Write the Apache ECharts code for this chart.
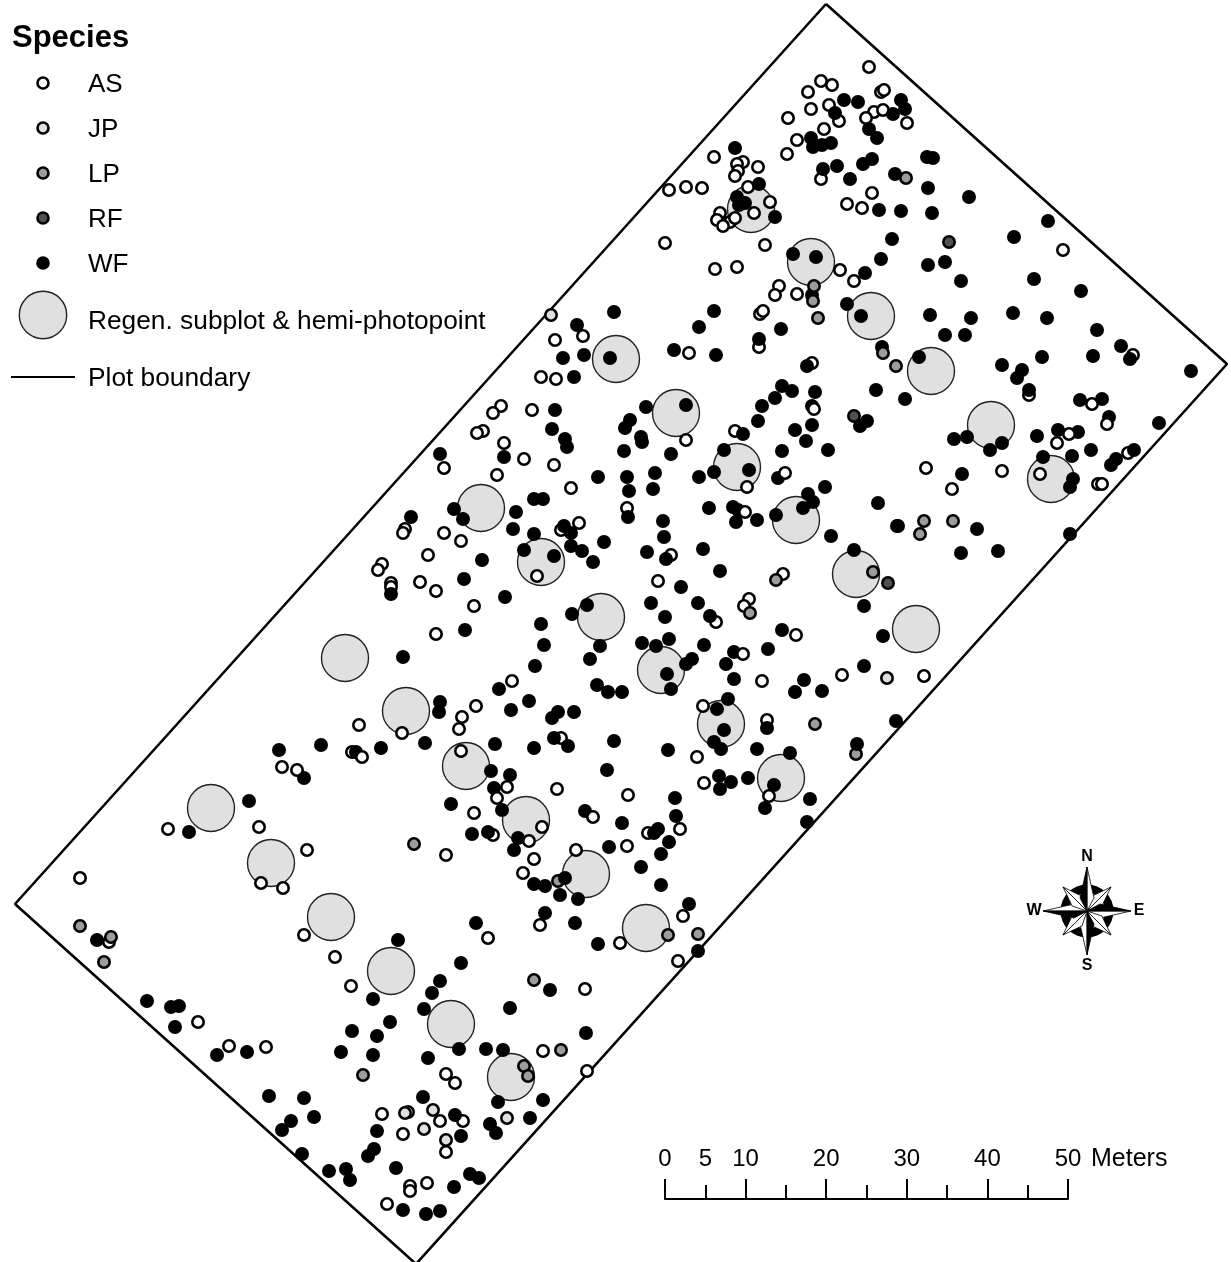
<!DOCTYPE html>
<html><head><meta charset="utf-8">
<style>html,body{margin:0;padding:0;background:#fff}#c{width:1231px;height:1262px}</style>
<script src="https://cdn.jsdelivr.net/npm/echarts@6/dist/echarts.min.js"></script>
</head><body><div id="c"></div>
<script>
const boundary=[[826,4],[1227,364],[416,1264],[15,904],[826,4]];
const subplots=[[751,209],[811,262],[871,316],[931,371],[991,425],[1051,479],[616,359],[676,413],[737,467],[796,520],[856,574],[916,629],[481,508],[541,562],[601,617],[661,670],[721,724],[781,778],[345,658],[406,711],[466,766],[526,820],[586,874],[646,928],[211,808],[271,863],[331,917],[391,971],[451,1024],[511,1077]];
const AS=[[869,67],[821,81],[832,85],[808,92],[881,92],[884,90],[811,109],[829,105],[839,121],[874,112],[883,110],[866,118],[907,123],[788,118],[824,129],[797,140],[787,154],[714,157],[743,162],[737,164],[758,167],[738,171],[735,176],[748,187],[669,190],[686,187],[702,188],[821,179],[872,193],[847,204],[862,208],[720,213],[717,220],[730,222],[723,226],[665,243],[765,245],[715,269],[737,267],[840,270],[854,281],[779,286],[775,295],[797,294],[760,314],
[1063,250],[1133,355],[1029,395],[1057,443],[1128,453],[926,468],[1002,471],[1040,474],[952,489],[1098,484],[1102,484],
[555,340],[689,353],[759,347],[812,363],[541,377],[556,379],[532,410],[686,440],[735,431],[554,465],[571,488],[627,508],[671,555],[579,523],[561,530],[537,576],[783,574],[658,581],
[501,406],[493,413],[483,431],[477,433],[504,443],[524,459],[444,468],[497,475],[405,529],[403,533],[444,533],[461,541],[428,555],[382,564],[378,570],[391,583],[391,587],[420,582],[436,591],[474,606],[436,634],[512,681],
[749,599],[744,606],[716,622],[796,635],[762,681],[842,675],[924,676],[703,706],[767,720],[697,757],[704,783],
[476,706],[462,717],[459,729],[402,733],[461,751],[561,738],[557,789],[628,795],[474,813],[493,835],[648,833],[680,829],[627,846],[446,855],[576,850],[534,859],[523,873],[540,925],[683,916],[488,938],[620,943],[678,961],
[359,725],[282,767],[352,752],[168,829],[259,827],[307,850],[261,883],[283,888],[80,878],[304,935],[335,957],[351,986],[109,942],[198,1022],[229,1046],[266,1047],
[585,989],[543,1051],[446,1074],[455,1083],[587,1071],[382,1114],[408,1112],[440,1121],[463,1121],[403,1134],[446,1152],[410,1186],[410,1191],[427,1183],[387,1204]];
const ASOnTop=[[754,213],[770,202],[735,218],[763,311],[745,512],[785,473],[747,487],[507,787],[497,798],[529,841],[542,827],[593,817],[769,796],[743,654],[814,409],[1107,424],[1069,434],[1092,404],[583,336],[362,757],[297,770]];
const JP=[[551,315],[887,678],[405,1113],[433,1110],[424,1129],[446,1140],[507,1118]];
const LP=[[906,178],[814,286],[813,301],[818,318],[924,521],[953,521],[920,534],[883,353],[896,366],[873,572],[776,580],[750,613],[815,724],[414,844],[668,935],[698,934],[80,926],[111,937],[104,962],[534,980],[561,1050],[363,1075],[524,1066],[528,1076]];
const LPBelow=[[558,881],[856,754]];
const RF=[[949,242],[854,416],[888,583]];
const WF=[[844,100],[858,102],[901,100],[905,109],[893,114],[835,113],[869,129],[877,138],[811,138],[813,147],[822,145],[831,143],[735,148],[872,159],[863,164],[927,157],[933,158],[837,166],[823,169],[850,179],[895,174],[928,188],[759,184],[737,197],[739,205],[745,203],[879,210],[901,211],[932,213],[775,217],[892,239],[881,259],[793,254],[816,257],[928,265],[865,273],[714,311],[699,327],[847,304],[861,316],[930,315],[781,329],[759,339],[812,295],
[969,197],[1048,221],[1014,237],[945,262],[961,281],[1034,279],[1081,291],[971,318],[1013,313],[1047,318],[945,335],[965,335],[1097,330],[1121,346],[1130,359],[1093,356],[1042,357],[1191,371],[1002,365],[1022,370],[1017,378],[1029,390],[919,357],[905,399],[1080,400],[1102,399],[1109,417],[1159,423],[1058,430],[1078,432],[1037,436],[954,439],[967,437],[1002,443],[990,450],[1091,450],[1072,456],[1043,457],[1134,450],[1116,459],[1111,465],[962,474],[1073,479],[1070,487],[977,529],[1070,534],[898,526],[961,553],[998,551],
[614,312],[577,325],[882,347],[584,355],[563,358],[610,358],[574,377],[674,350],[716,355],[807,366],[782,386],[792,391],[815,392],[775,398],[762,406],[758,421],[876,390],[860,426],[867,421],[646,407],[686,405],[630,420],[625,428],[641,437],[642,442],[555,410],[552,429],[565,439],[567,447],[624,451],[671,454],[812,425],[795,430],[806,441],[743,434],[724,450],[782,451],[828,450],[749,470],[714,472],[699,477],[778,478],[598,477],[627,477],[655,473],[629,491],[653,489],[825,487],[808,494],[813,502],[803,508],[776,515],[757,520],[733,507],[738,510],[736,522],[709,508],[628,517],[663,521],[664,537],[878,503],[897,526],[831,536],[854,550],[703,549],[647,552],[666,559],[720,571],[681,587],[534,499],[543,499],[534,534],[564,526],[571,533],[571,546],[582,551],[604,542],[593,562],[554,556],[812,406],
[440,454],[504,457],[411,517],[454,509],[463,519],[516,512],[513,529],[524,550],[482,560],[464,579],[391,594],[505,597],[651,603],[587,605],[572,614],[465,630],[541,624],[544,645],[600,646],[642,643],[656,646],[590,659],[535,666],[403,657],[499,689],[597,685],[608,692],[622,692],
[698,603],[665,617],[710,616],[864,606],[883,636],[782,630],[669,639],[704,645],[768,649],[734,652],[726,664],[692,659],[686,664],[667,674],[671,689],[734,679],[864,666],[804,680],[795,692],[822,691],[728,699],[717,709],[724,730],[714,742],[721,749],[767,728],[896,721],[857,744],[668,750],[757,749],[790,753],[719,776],[731,782],[720,789],[748,778],[774,785],[810,799],[765,808],[675,798],[676,816],[807,822],
[529,701],[511,710],[440,702],[439,712],[558,712],[552,718],[574,712],[554,738],[568,746],[614,741],[425,743],[495,744],[534,748],[491,771],[510,775],[607,770],[494,788],[451,804],[502,810],[585,811],[622,823],[658,829],[654,833],[669,842],[472,834],[488,832],[518,838],[514,850],[609,847],[661,854],[641,867],[661,885],[565,878],[534,884],[545,886],[560,895],[578,899],[545,913],[575,923],[689,904],[476,923],[598,944],[698,951],[461,963],
[279,750],[321,745],[356,752],[381,748],[304,778],[249,801],[189,832],[97,940],[398,940],[373,999],[147,1001],[171,1007],[179,1006],[175,1027],[390,1022],[352,1031],[377,1036],[217,1055],[247,1052],[341,1052],[373,1055],
[440,981],[432,993],[550,990],[424,1009],[510,1008],[586,1033],[428,1058],[459,1049],[486,1049],[503,1050],[269,1096],[304,1098],[423,1097],[498,1102],[543,1100],[291,1121],[282,1130],[314,1117],[455,1115],[377,1131],[490,1124],[496,1133],[530,1118],[461,1136],[374,1149],[368,1156],[302,1154],[329,1171],[346,1169],[350,1180],[396,1168],[470,1174],[479,1178],[454,1187],[403,1210],[426,1214],[440,1211]];
const legendNames=['AS','JP','LP','RF','WF'];
const legendFills=['#ffffff','#e0e0e0','#9c9c9c','#505050','#000000'];
const scaleLabels=[0,5,10,20,30,40,50];

const dot=(name,data,fill,z)=>({name,type:'scatter',data,symbol:'circle',symbolSize:11.4,z,
  itemStyle:{color:fill,borderColor:'#000',borderWidth:2.6,opacity:1},silent:true,animation:false,clip:false});

const T=(text,x,y,size,weight)=>({type:'text',x,y,z:20,style:{text,fill:'#000',font:(weight||'normal')+' '+size+'px "Liberation Sans", Arial, sans-serif',verticalAlign:'middle'}});
const graphic=[T('Species',12,38,31,'bold')];
legendNames.forEach((n,i)=>{const y=[83,128,173,218,263][i];
  graphic.push({type:'circle',z:20,shape:{cx:43,cy:y,r:5.5},style:{fill:legendFills[i],stroke:'#000',lineWidth:2.6}});
  graphic.push(T(n,88,y+1.5,26));});
graphic.push({type:'circle',z:20,shape:{cx:43,cy:315,r:23.7},style:{fill:'#e0e0e0',stroke:'#222',lineWidth:1.4}});
graphic.push(T('Regen. subplot & hemi-photopoint',88,322,26.3));
graphic.push({type:'line',z:20,shape:{x1:11,y1:377,x2:75,y2:377},style:{stroke:'#000',lineWidth:2}});
graphic.push(T('Plot boundary',88,379,26.3));
graphic.push(T('Meters',1091,1159,25));
// compass rose
const cx=1087,cy=911;
const poly=(pts,fill)=>({type:'polygon',z:20,shape:{points:pts},style:{fill,stroke:'#000',lineWidth:0.8}});
graphic.push({type:'ring',z:20,shape:{cx,cy,r:26.5,r0:18},style:{fill:'#000'}});
for(let k=0;k<8;k++){
  const a=(k+1)%8*Math.PI/4-Math.PI/2+(k%2?0:0), diag=(k+1)%2===1, L=diag?34:44, w=diag?7:7, r0=diag?14:13;
  const tip=[cx+L*Math.cos(a),cy+L*Math.sin(a)];
  const s1=[cx+r0*Math.cos(a)-w*Math.sin(a),cy+r0*Math.sin(a)+w*Math.cos(a)];
  const s2=[cx+r0*Math.cos(a)+w*Math.sin(a),cy+r0*Math.sin(a)-w*Math.cos(a)];
  graphic.push(poly([[cx,cy],tip,s1],'#fff'));
  graphic.push(poly([[cx,cy],tip,s2],diag?'#fff':'#000'));
}
[['N',1087,857],['S',1087,966],['W',1034,911],['E',1139,911]].forEach(([t,x,y])=>{
  graphic.push({type:'text',x,y,z:20,style:{text:t,fill:'#000',font:'bold 16px "Liberation Sans", Arial, sans-serif',align:'center',verticalAlign:'middle'}});});

const chart=echarts.init(document.getElementById('c'),null,{renderer:'canvas'});
chart.setOption({
  animation:false,backgroundColor:'#fff',
  grid:[{left:0,top:0,width:1231,height:1262},{left:665,width:403,top:1100,height:99}],
  xAxis:[{type:'value',min:0,max:1231,show:false},
    {type:'value',gridIndex:1,min:0,max:50,interval:10,position:'bottom',splitLine:{show:false},
     axisLine:{show:true,onZero:false,lineStyle:{color:'#000',width:2}},
     axisTick:{show:true,inside:true,length:20,lineStyle:{color:'#000',width:2}},
     minorTick:{show:true,splitNumber:2,length:14,lineStyle:{color:'#000',width:2}},
     minorSplitLine:{show:false},
     axisLabel:{show:true,inside:true,margin:28,color:'#000',fontSize:24,fontFamily:'Liberation Sans',customValues:scaleLabels,showMinLabel:true,showMaxLabel:true,hideOverlap:false}}],
  yAxis:[{type:'value',min:0,max:1262,inverse:true,show:false},
    {type:'value',gridIndex:1,min:0,max:1,show:false}],
  series:[
    {name:'Plot boundary',type:'line',data:boundary,symbol:'none',lineStyle:{color:'#000',width:2.6},silent:true,z:1,clip:false},
    {name:'Regen. subplot & hemi-photopoint',type:'scatter',data:subplots,symbol:'circle',symbolSize:47,silent:true,z:2,
      itemStyle:{color:'#e0e0e0',borderColor:'#222',borderWidth:1.4,opacity:1}},
    dot('AS',AS,'#ffffff',3),dot('JP',JP,'#e0e0e0',4),dot('RF',RF,'#505050',4),dot('LP',LPBelow,'#9c9c9c',4),
    dot('WF',WF,'#000000',5),dot('LP',LP,'#9c9c9c',6),dot('AS',ASOnTop,'#ffffff',6)
  ],
  graphic:{elements:graphic}
});
</script></body></html>
